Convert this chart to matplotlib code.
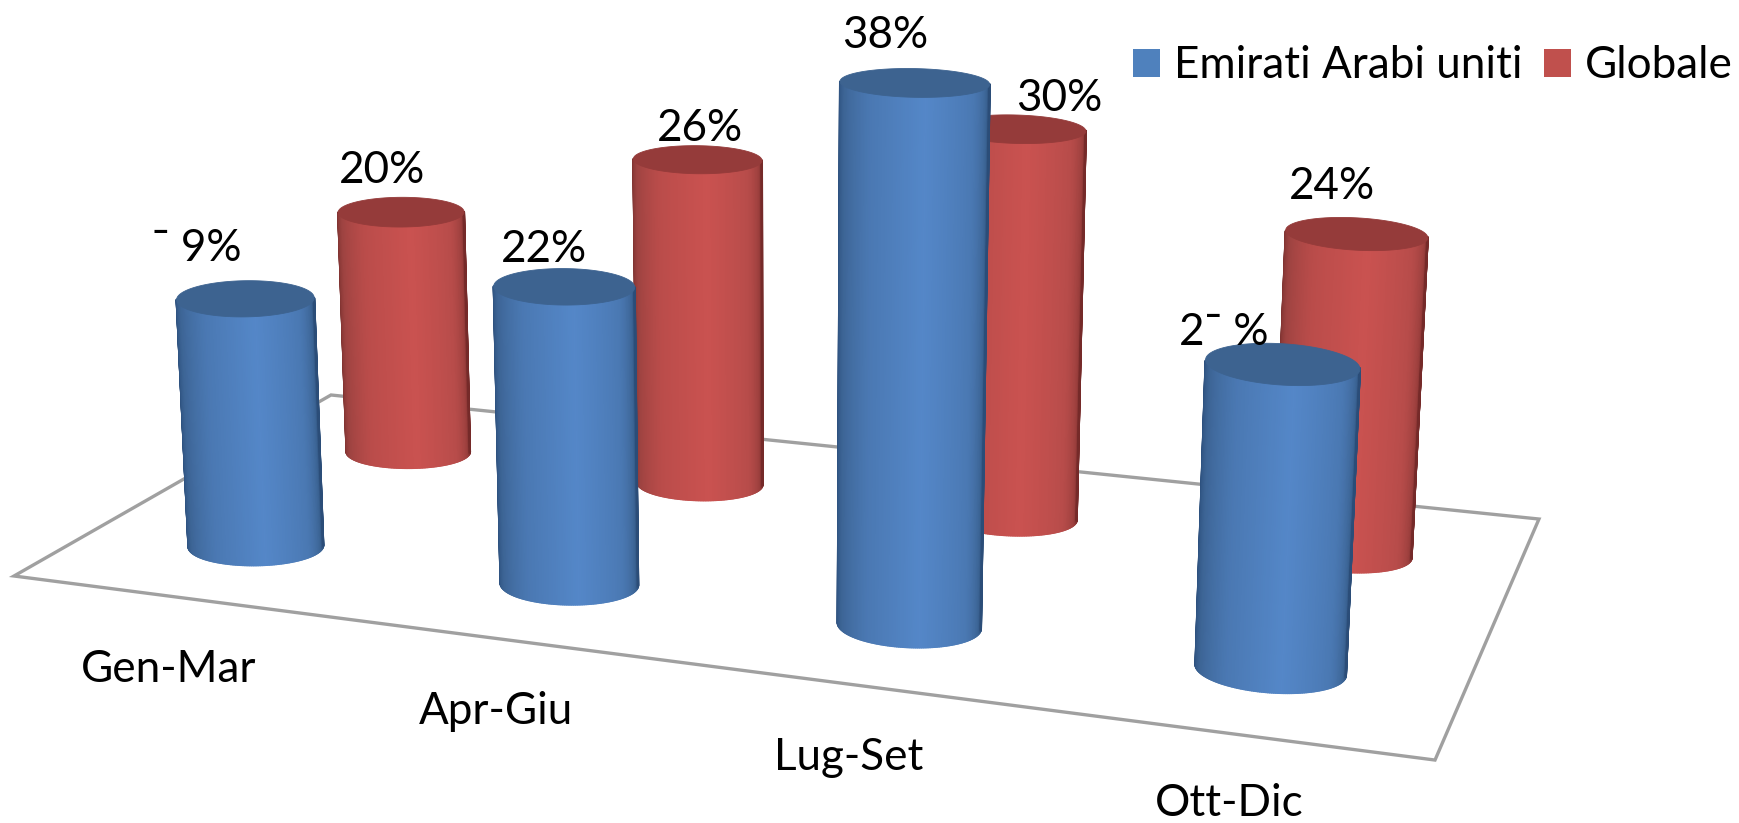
import numpy as np
import matplotlib
matplotlib.use("Agg")
import matplotlib.pyplot as plt
from matplotlib.collections import PolyCollection
from matplotlib.colors import LinearSegmentedColormap
from matplotlib.patches import Patch, Polygon

plt.rcParams['font.family'] = ['Lato', 'DejaVu Sans']

categories = ['Gen-Mar', 'Apr-Giu', 'Lug-Set', 'Ott-Dic']
serie_uae = [19, 22, 38, 21]
serie_globale = [20, 26, 30, 24]
labels_uae = ['¯ 9%', '22%', '38%', '2¯ %']
labels_globale = ['20%', '26%', '30%', '24%']
legend_names = ['Emirati Arabi uniti', 'Globale']

# camera: floor coordinates (u, v in 0..1) plus height in value units -> pixels
CAM = np.array([
    [1203.6, 379.7, -0.00105 * 784, 14.0],
    [68.9, -106.2, -0.00105 * 13000, 576.0],
    [-0.1515, 0.1894, -0.00105, 1.0],
])
R_U, R_V = 0.0505, 0.088
TOP_STRETCH = 1.18  # the caps read rounder than the base circles
V_UAE, V_GLOBALE = 0.24, 0.745
NUDGE_UAE = [0.0057, 0.0049, 0.0052, 0.001]
NUDGE_GLOBALE = [0.0085, 0.008, 0.005, 0.0025]
WIDTH_UAE = [1.0, 0.98, 0.97, 0.96]
WIDTH_GLOBALE = [1.0, 0.975, 1.0, 0.97]

FONT_SIZE = 31.7

# label offsets from the centre of each cylinder top, in pixels
OFF_UAE = [(-49, -50), (-20, -37), (-29, -47), (-59, -32)]
OFF_GLOBALE = [(-19, -41), (2, -31), (43, -30), (-24, -47)]
CAT_POS = [(169, 670), (496, 712), (849, 757), (1229, 804)]

cmap_blue = LinearSegmentedColormap.from_list('blu', [
    (0.0, '#2C4F7C'), (0.12, '#3D6596'), (0.3, '#4A78B2'), (0.55, '#5487C8'),
    (0.8, '#4A78B2'), (0.93, '#3C6494'), (1.0, '#2B4D78')])
cmap_red = LinearSegmentedColormap.from_list('ros', [
    (0.0, '#7C3230'), (0.12, '#9E4341'), (0.3, '#BA4C4A'), (0.55, '#CA5250'),
    (0.8, '#B74C4A'), (0.93, '#9A3F3D'), (1.0, '#752A29')])


def proj(u, v, z):
    u, v, z = np.broadcast_arrays(u, v, z)
    p = CAM @ np.vstack([u.ravel(), v.ravel(), z.ravel(), np.ones(u.size)])
    return p[0] / p[2], p[1] / p[2]


def cylinder(ax, u0, v0, value, width, cmap, top_color, zo):
    ru, rv = R_U * width, R_V * width
    t = np.linspace(0, 2 * np.pi, 361)
    xb, yb = proj(u0 + ru * np.cos(t), v0 + rv * np.sin(t), 0 * t)
    xt, yt = proj(u0 + ru * np.cos(t), v0 + rv * np.sin(t), value + 0 * t)

    # visible side runs from the left silhouette through the front to the right one
    xm = (xb + xt) / 2
    left, right = t[np.argmin(xm)], t[np.argmax(xm)]
    if right < np.pi:
        right += 2 * np.pi
    ts = np.linspace(left, right, 120)
    cx, cy = u0 + ru * np.cos(ts), v0 + rv * np.sin(ts)
    xb2, yb2 = proj(cx, cy, 0 * ts)
    xt2, yt2 = proj(cx, cy, value + 0 * ts)

    quads, colors = [], []
    for i in range(len(ts) - 1):
        quads.append([(xb2[i], yb2[i]), (xb2[i + 1], yb2[i + 1]),
                      (xt2[i + 1], yt2[i + 1]), (xt2[i], yt2[i])])
        colors.append(cmap(i / (len(ts) - 2)))
    ax.add_collection(PolyCollection(quads, facecolors=colors, edgecolors=colors,
                                     linewidths=1.5, zorder=zo))
    xc, yc = proj(u0, v0, value)
    xc, yc = float(xc[0]), float(yc[0])
    # cap stretched on screen only, so its left and right ends stay on the body
    ycap = yc + TOP_STRETCH * (yt - yc)
    ax.add_patch(Polygon(np.column_stack([xt, ycap]), closed=True, facecolor=top_color,
                         edgecolor=top_color, linewidth=0.6, zorder=zo + 0.1))
    return xc, yc


fig = plt.figure(figsize=(17.4, 8.23), dpi=100)
ax = fig.add_axes([0, 0, 1, 1])
ax.set_xlim(0, 1740)
ax.set_ylim(823, 0)
ax.axis('off')

# floor outline
fx, fy = proj(np.array([0, 1, 1, 0]), np.array([0, 0, 1, 1]), np.zeros(4))
ax.add_patch(Polygon(np.column_stack([fx, fy]), closed=True, facecolor='white',
                     edgecolor='#A0A0A0', linewidth=2.4, zorder=1))

for i in range(len(categories)):
    u = (i + 0.5) / len(categories) + NUDGE_GLOBALE[i]
    xc, yc = cylinder(ax, u, V_GLOBALE, serie_globale[i], WIDTH_GLOBALE[i], cmap_red, '#953B3A', 2 + i * 0.2)
    ax.text(xc + OFF_GLOBALE[i][0], yc + OFF_GLOBALE[i][1], labels_globale[i], fontsize=FONT_SIZE,
            ha='center', va='center', color='black', zorder=10)
for i in range(len(categories)):
    u = (i + 0.5) / len(categories) + NUDGE_UAE[i]
    xc, yc = cylinder(ax, u, V_UAE, serie_uae[i], WIDTH_UAE[i], cmap_blue, '#3D6390', 4 + i * 0.2)
    ax.text(xc + OFF_UAE[i][0], yc + OFF_UAE[i][1], labels_uae[i], fontsize=FONT_SIZE,
            ha='center', va='center', color='black', zorder=10)

for name, (x, y) in zip(categories, CAT_POS):
    ax.text(x, y, name, fontsize=FONT_SIZE, ha='center', va='center', color='black')

handles = [Patch(facecolor='#4F81BD', label=legend_names[0]),
           Patch(facecolor='#C0504D', label=legend_names[1])]
ax.legend(handles=handles, loc='center left', bbox_to_anchor=(1133 / 1740, 1 - 66 / 823),
          ncol=2, frameon=False, fontsize=FONT_SIZE, handlelength=0.62, handleheight=0.62,
          handletextpad=0.3, columnspacing=0.5, borderpad=0, borderaxespad=0)

fig.savefig('out.png', dpi=100)
